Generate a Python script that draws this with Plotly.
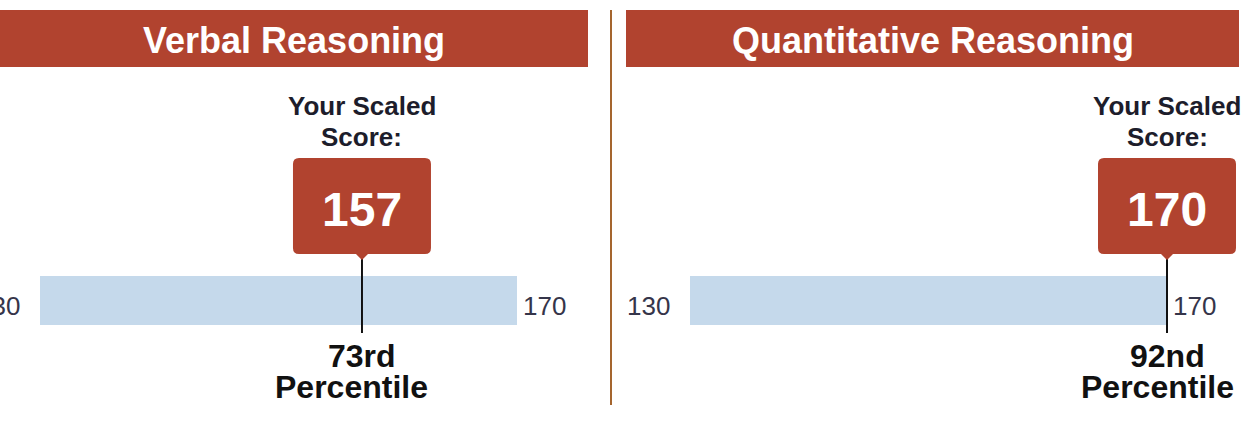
import plotly.graph_objects as go

# ---- data ----
sections = ["Verbal Reasoning", "Quantitative Reasoning"]
scores = [157, 170]
percentiles = ["73rd", "92nd"]
scale_min = [130, 130]
scale_max = [170, 170]

# ---- layout constants (pixels) ----
W, H = 1244, 426
HEADER_COL = "#B1432F"
BAR_COL = "#C5D9EB"
FONT = "Liberation Sans"
panel_px = [(0, 606), (616, 1244)]          # axis domains in px
bar_px = [(40, 517), (690, 1167)]           # where min..max sit, px
header_px = [(0, 588), (626, 1239)]

fig = go.Figure()
shapes, annos = [], []

for i in range(2):
    xa = "x" if i == 0 else "x2"
    ax_name = "xaxis" if i == 0 else "xaxis2"
    p0, p1 = panel_px[i]
    b0, b1 = bar_px[i]
    lo, hi = scale_min[i], scale_max[i]
    k = (hi - lo) / (b1 - b0)                 # units per px
    rng = [lo - (b0 - p0) * k, hi + (p1 - b1) * k]
    fig.update_layout(**{ax_name: dict(domain=[p0 / W, p1 / W], range=rng,
                                       visible=False, fixedrange=True,
                                       anchor="y")})
    # range bar
    fig.add_trace(go.Bar(x=[hi - lo], base=[lo], y=[300.5], width=[49],
                         orientation="h", marker=dict(color=BAR_COL, line_width=0),
                         xaxis=xa, yaxis="y", hoverinfo="skip", showlegend=False))
    s = scores[i]
    # marker line
    fig.add_trace(go.Scatter(x=[s, s], y=[258, 333], mode="lines",
                             line=dict(color="#111111", width=2),
                             xaxis=xa, yaxis="y", hoverinfo="skip", showlegend=False))
    # score box with pointer (data units)
    hw = 69 * k
    r = 6 * k
    top, bot = 158, 254
    ry = 6
    pw = 6 * k
    path = (f"M {s-hw+r},{top} L {s+hw-r},{top} Q {s+hw},{top} {s+hw},{top+ry} "
            f"L {s+hw},{bot-ry} Q {s+hw},{bot} {s+hw-r},{bot} "
            f"L {s+pw},{bot} L {s},{bot+6} L {s-pw},{bot} "
            f"L {s-hw+r},{bot} Q {s-hw},{bot} {s-hw},{bot-ry} "
            f"L {s-hw},{top+ry} Q {s-hw},{top} {s-hw+r},{top} Z")
    shapes.append(dict(type="path", path=path, xref=xa, yref="y",
                       fillcolor=HEADER_COL, line=dict(width=0), layer="above"))
    # header band
    h0, h1 = header_px[i]
    shapes.append(dict(type="rect", xref="paper", yref="y", x0=h0 / W, x1=h1 / W,
                       y0=10, y1=67, fillcolor=HEADER_COL, line=dict(width=0)))
    annos.append(dict(text=f"<b>{sections[i]}</b>", xref="paper", yref="y",
                      x=(h0 + h1) / 2 / W, y=40, xanchor="center", yanchor="middle",
                      showarrow=False,
                      font=dict(family=FONT, size=36, color="white")))
    # score text
    annos.append(dict(text=f"<b>{s}</b>", xref=xa, yref="y", x=s, y=209,
                      xanchor="center", yanchor="middle", showarrow=False,
                      font=dict(family=FONT, size=48, color="white")))
    # "Your Scaled Score:"
    for txt, yy in (("Your Scaled", 105), ("Score:", 136)):
        annos.append(dict(text=f"<b>{txt}</b>", xref=xa, yref="y",
                          x=s, y=yy, xanchor="center", yanchor="middle",
                          height=29, borderpad=0, showarrow=False,
                          font=dict(family=FONT, size=26, color="#1d1d2b")))
    # percentile
    for txt, yy, xs in ((percentiles[i], 355, 0), ("Percentile", 386, -10)):
        annos.append(dict(text=f"<b>{txt}</b>", xref=xa, yref="y",
                          x=s, xshift=xs, y=yy, xanchor="center", yanchor="middle",
                          height=29, borderpad=0, showarrow=False,
                          font=dict(family=FONT, size=32, color="#111111")))
    # min / max tick labels
    annos.append(dict(text=str(lo), xref=xa, yref="y", x=lo, xshift=-18, y=306,
                      xanchor="right", yanchor="middle", showarrow=False,
                      font=dict(family=FONT, size=26, color="#35354a")))
    annos.append(dict(text=str(hi), xref=xa, yref="y", x=hi, xshift=4, y=306,
                      xanchor="left", yanchor="middle", showarrow=False,
                      font=dict(family=FONT, size=26, color="#35354a")))

# divider
shapes.append(dict(type="line", xref="paper", yref="y", x0=611 / W, x1=611 / W,
                   y0=10, y1=405, line=dict(color="#A5652E", width=2)))

fig.update_layout(
    width=W, height=H, margin=dict(l=0, r=0, t=0, b=0),
    paper_bgcolor="white", plot_bgcolor="white",
    yaxis=dict(range=[H, 0], visible=False, domain=[0, 1], fixedrange=True),
    shapes=shapes, annotations=annos, bargap=0,
)
fig.write_html("out.html", config={"displayModeBar": False})
